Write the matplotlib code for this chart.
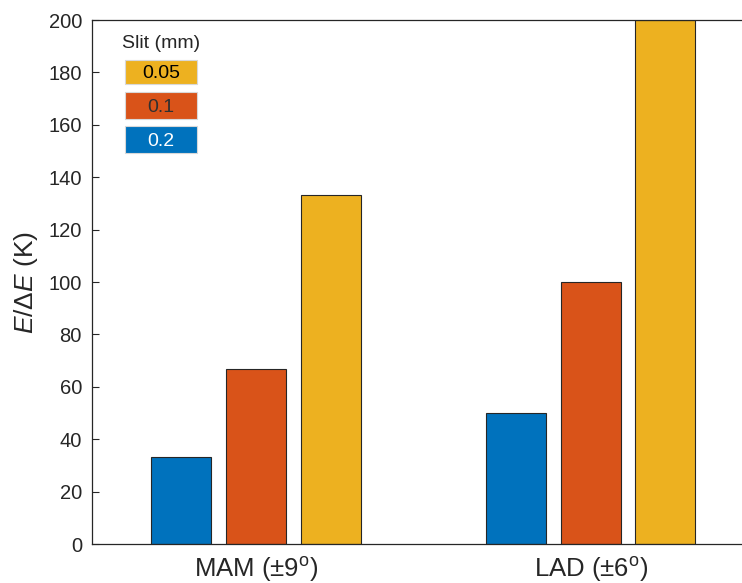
import numpy as np
import matplotlib
matplotlib.use('Agg')
import matplotlib.pyplot as plt
from matplotlib.patches import Rectangle

plt.rcParams['font.family'] = ['Liberation Sans', 'DejaVu Sans']
plt.rcParams['mathtext.fontset'] = 'custom'
plt.rcParams['mathtext.rm'] = 'Liberation Sans'
plt.rcParams['mathtext.it'] = 'Liberation Sans:italic'

groups = ['MAM (±9$^{\\rm o}$)', 'LAD (±6$^{\\rm o}$)']
slits = ['0.2', '0.1', '0.05']
values = {
    '0.2': [33.3, 50.0],
    '0.1': [66.7, 100.0],
    '0.05': [133.3, 200.0],
}
colors = {'0.2': '#0072BD', '0.1': '#D95319', '0.05': '#EDB120'}
text_colors = {'0.2': 'white', '0.1': '#303030', '0.05': 'black'}

W, H = 742, 583
fig = plt.figure(figsize=(W / 100, H / 100), dpi=100)
# axes run a little past the right edge of the figure, as in the original
ax_l, ax_b, ax_w, ax_h = 92, 39, 666, 524
ax = fig.add_axes([ax_l / W, ax_b / H, ax_w / W, ax_h / H])

x = np.arange(1, len(groups) + 1)
width = 0.18
step = 0.223
for i, s in enumerate(slits):
    ax.bar(x + (i - 1) * step, values[s], width, color=colors[s],
           edgecolor='#262626', linewidth=0.8)

ax.set_xlim(0.51, 2.5)
ax.set_ylim(0, 200)
ax.set_yticks(np.arange(0, 201, 20))
ax.set_xticks(x)
ax.set_xticklabels(groups, fontsize=18.5, color='#262626')
ax.tick_params(axis='y', direction='in', length=5, labelsize=14.5,
               colors='#262626', pad=7.2)
ax.tick_params(axis='x', length=0, pad=8)
ax.set_ylabel('$E$/Δ$E$ (K)', fontsize=19, color='#262626', labelpad=6)
for sp in ax.spines.values():
    sp.set_color('#262626')
    sp.set_linewidth(0.9)


def to_ax(px, py):
    # pixel position in the figure (from the top) -> axes fraction
    return (px - ax_l) / ax_w, ((H - py) - ax_b) / ax_h


# legend drawn by hand: coloured boxes with the labels inside
tx, ty = to_ax(161, 43)
ax.text(tx, ty, 'Slit (mm)', transform=ax.transAxes, ha='center',
        va='center', fontsize=14, color='#262626')
boxes = [('0.05', 60, 24), ('0.1', 92, 27), ('0.2', 126, 27)]
for s, top, hgt in boxes:
    x0, y0 = to_ax(125, top + hgt)
    ax.add_patch(Rectangle((x0, y0), 72 / ax_w, hgt / ax_h,
                           transform=ax.transAxes, facecolor=colors[s],
                           edgecolor='#d8d8d8', linewidth=0.8, clip_on=False))
    ax.text(x0 + 36 / ax_w, y0 + hgt / 2 / ax_h, s, transform=ax.transAxes,
            ha='center', va='center_baseline', fontsize=14,
            color=text_colors[s])

fig.savefig('out.png', dpi=100)
